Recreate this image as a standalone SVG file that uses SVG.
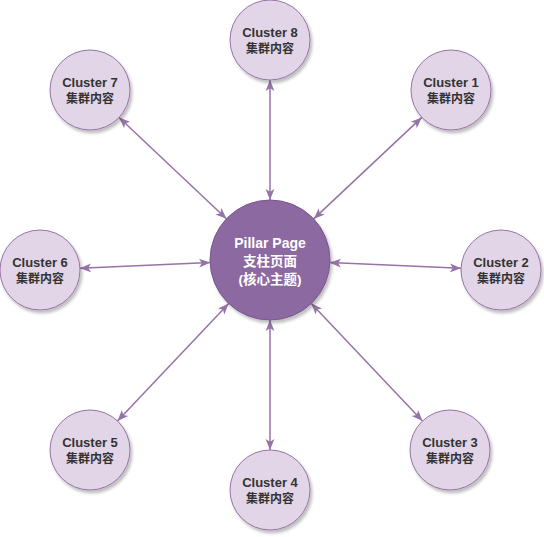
<svg xmlns="http://www.w3.org/2000/svg" width="544" height="537" viewBox="0 0 544 537">
<defs>
<filter id="sh" x="-20%" y="-20%" width="150%" height="150%">
<feDropShadow dx="2" dy="3" stdDeviation="1.5" flood-color="#000" flood-opacity="0.25"/>
</filter>
<marker id="arr" viewBox="0 0 10 10" refX="10" refY="5" markerWidth="11" markerHeight="11" markerUnits="userSpaceOnUse" orient="auto-start-reverse">
<path d="M0,1 L10,5 L0,9 L2.5,5 z" fill="#9673a6"/>
</marker>
<style>
.c{fill:#e1d5e7;stroke:#9673a6;stroke-width:1;filter:url(#sh)}
.m{fill:#8d69a1;stroke:#7a5690;stroke-width:1;filter:url(#sh)}
.t{font-family:"Liberation Sans","Noto Sans CJK SC",sans-serif;font-weight:bold;font-size:13px;fill:#333;text-anchor:middle}
.t.k{font-size:12px}
.w{font-family:"Liberation Sans","Noto Sans CJK SC",sans-serif;font-weight:bold;font-size:14px;fill:#fff;text-anchor:middle}
.w.k{font-size:13.5px}
.e{stroke:#9673a6;stroke-width:1.5;fill:none;marker-start:url(#arr);marker-end:url(#arr)}
</style>
</defs>
<g id="connectors">
<line class="e" x1="270" y1="200" x2="270" y2="80"/>
<line class="e" x1="313.7" y1="218.9" x2="421.8" y2="117.4"/>
<line class="e" x1="329.9" y1="262.6" x2="461" y2="268.3"/>
<line class="e" x1="311.3" y1="303.6" x2="422.5" y2="421"/>
<line class="e" x1="270" y1="320" x2="270" y2="450"/>
<line class="e" x1="228.7" y1="303.6" x2="117.5" y2="421"/>
<line class="e" x1="210.1" y1="262.6" x2="80" y2="268.3"/>
<line class="e" x1="226.4" y1="218.8" x2="119.1" y2="117.5"/>
</g>
<g id="pillar">
<circle class="m" cx="270" cy="260" r="60"/>
<text class="w" x="270" y="248">Pillar Page</text>
<text class="w k" x="270" y="266">支柱页面</text>
<text class="w k" x="270" y="284">(核心主题)</text>
</g>
<g id="cluster8"><circle class="c" cx="270" cy="40" r="40"/><text class="t" x="270" y="37">Cluster 8</text><text class="t k" x="270" y="53">集群内容</text></g>
<g id="cluster1"><circle class="c" cx="451" cy="90" r="40"/><text class="t" x="451" y="87">Cluster 1</text><text class="t k" x="451" y="103">集群内容</text></g>
<g id="cluster2"><circle class="c" cx="501" cy="270" r="40"/><text class="t" x="501" y="267">Cluster 2</text><text class="t k" x="501" y="283">集群内容</text></g>
<g id="cluster3"><circle class="c" cx="450" cy="450" r="40"/><text class="t" x="450" y="447">Cluster 3</text><text class="t k" x="450" y="463">集群内容</text></g>
<g id="cluster4"><circle class="c" cx="270" cy="490" r="40"/><text class="t" x="270" y="487">Cluster 4</text><text class="t k" x="270" y="503">集群内容</text></g>
<g id="cluster5"><circle class="c" cx="90" cy="450" r="40"/><text class="t" x="90" y="447">Cluster 5</text><text class="t k" x="90" y="463">集群内容</text></g>
<g id="cluster6"><circle class="c" cx="40" cy="270" r="40"/><text class="t" x="40" y="267">Cluster 6</text><text class="t k" x="40" y="283">集群内容</text></g>
<g id="cluster7"><circle class="c" cx="90" cy="90" r="40"/><text class="t" x="90" y="87">Cluster 7</text><text class="t k" x="90" y="103">集群内容</text></g>
</svg>
